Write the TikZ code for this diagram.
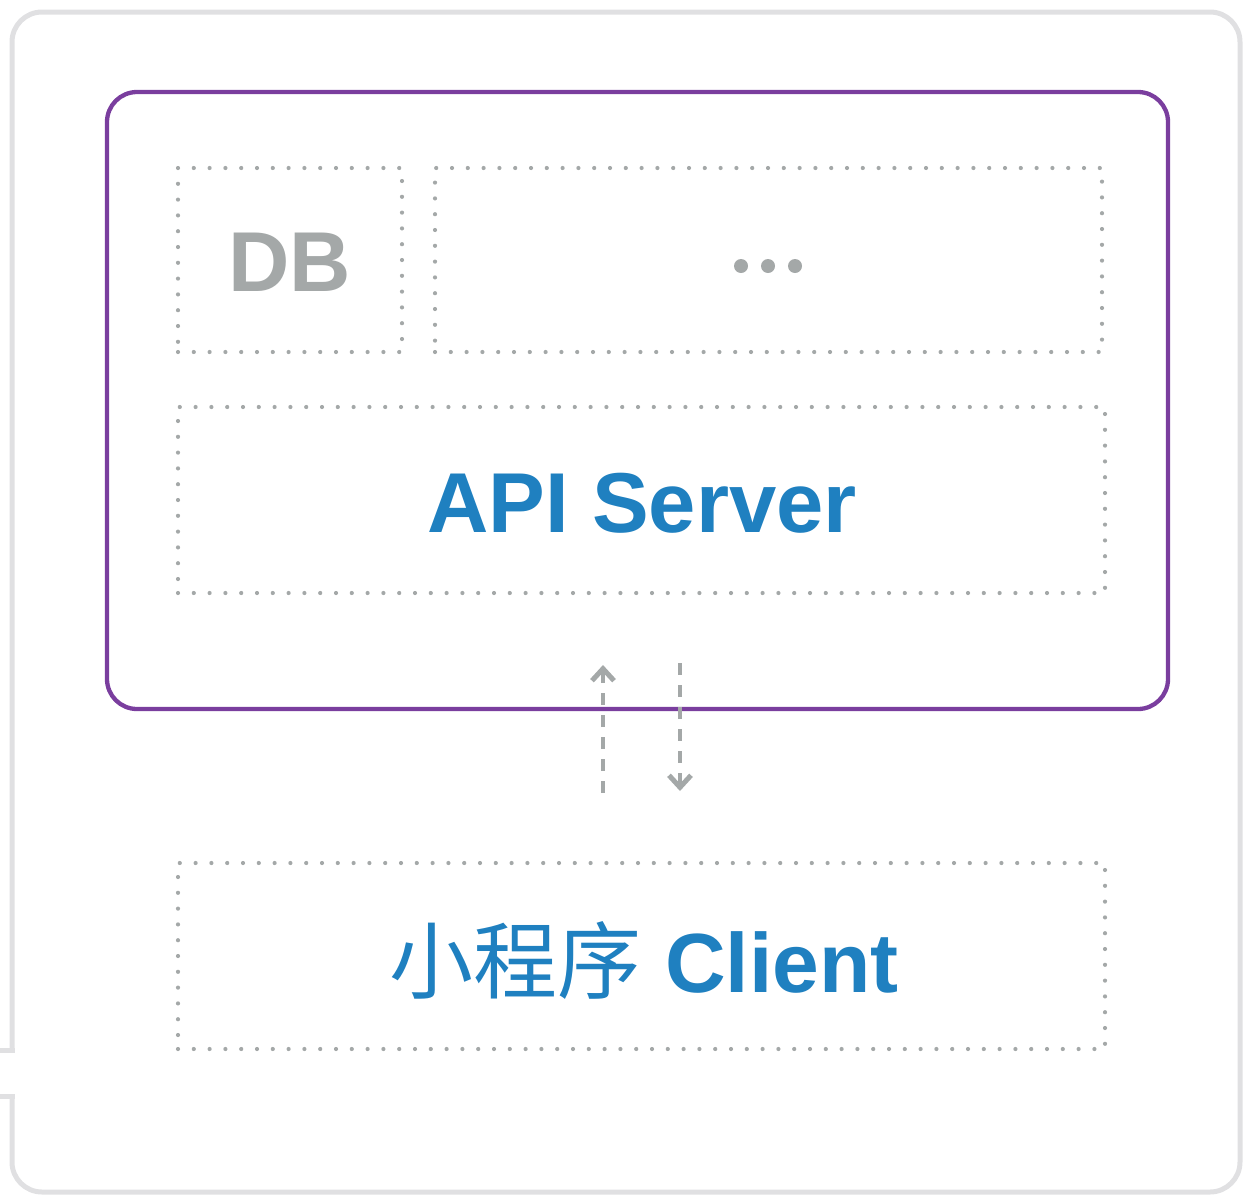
\documentclass[tikz,border=0pt]{standalone}
\usepackage{fontspec}
\setmainfont{Liberation Sans}
\newfontfamily\cjk{Noto Sans CJK SC}
\usetikzlibrary{arrows.meta}
\definecolor{framegray}{HTML}{E0E0E2}
\definecolor{dotgray}{HTML}{A4A8A8}
\definecolor{purp}{HTML}{7A3E9E}
\definecolor{blu}{HTML}{1F80C0}
\begin{document}
\begin{tikzpicture}[x=1pt,y=-1pt,
  dotbox/.style={draw=dotgray,line width=4.2pt,line cap=round,dash pattern=on 0pt off 15.8pt},
  arr/.style={draw=dotgray,line width=3.8pt,dash pattern=on 12pt off 10pt,-{Straight Barb[length=12pt,width=22pt,line width=5pt]}},
  lbl/.style={font=\bfseries\fontsize{85}{85}\selectfont,text=blu}]
\useasboundingbox (0,0) rectangle (1245,1200);
% outer frame with notch on the left
\draw[framegray,line width=5pt,rounded corners=30pt]
  (12,1050) -- (12,12) -- (1240,12) -- (1240,1192) -- (12,1192) -- (12,1096);
\draw[framegray,line width=5pt] (-5,1050) -- (14.5,1050);
\draw[framegray,line width=5pt] (-5,1096) -- (14.5,1096);
% purple box
\draw[purp,line width=4.3pt,rounded corners=30pt] (107,92) rectangle (1168,709);
% dotted boxes
\node[dotbox,minimum width=224pt,minimum height=184pt,inner sep=0pt] (db) at (290,260) {};
\node[dotbox,minimum width=667pt,minimum height=184pt,inner sep=0pt] (etc) at (768.5,260) {};
\node[dotbox,minimum width=927pt,minimum height=186pt,inner sep=0pt] (api) at (641.5,500) {};
\node[dotbox,minimum width=927pt,minimum height=186pt,inner sep=0pt] (cli) at (641.5,956) {};
% texts
\node[font=\bfseries\fontsize{85}{85}\selectfont,text=dotgray] (dbt) at (290,262) {DB};
\node[lbl] (apit) at (642,503) {API Server};
\node[lbl,font=\fontsize{84}{84}\selectfont] (clit) at (644,960) {{\cjk\mdseries 小程序} \textbf{Client}};
% ellipsis dots
\fill[dotgray] (741,266) circle (7pt) (768,266) circle (7pt) (795,266) circle (7pt);
% arrows
\coordinate (u1) at (603,793);
\coordinate (u2) at (603,665);
\coordinate (d1) at (680,663);
\coordinate (d2) at (680,791);
\draw[arr] (u1) -- (u2);
\draw[arr] (d1) -- (d2);
\end{tikzpicture}
\end{document}
